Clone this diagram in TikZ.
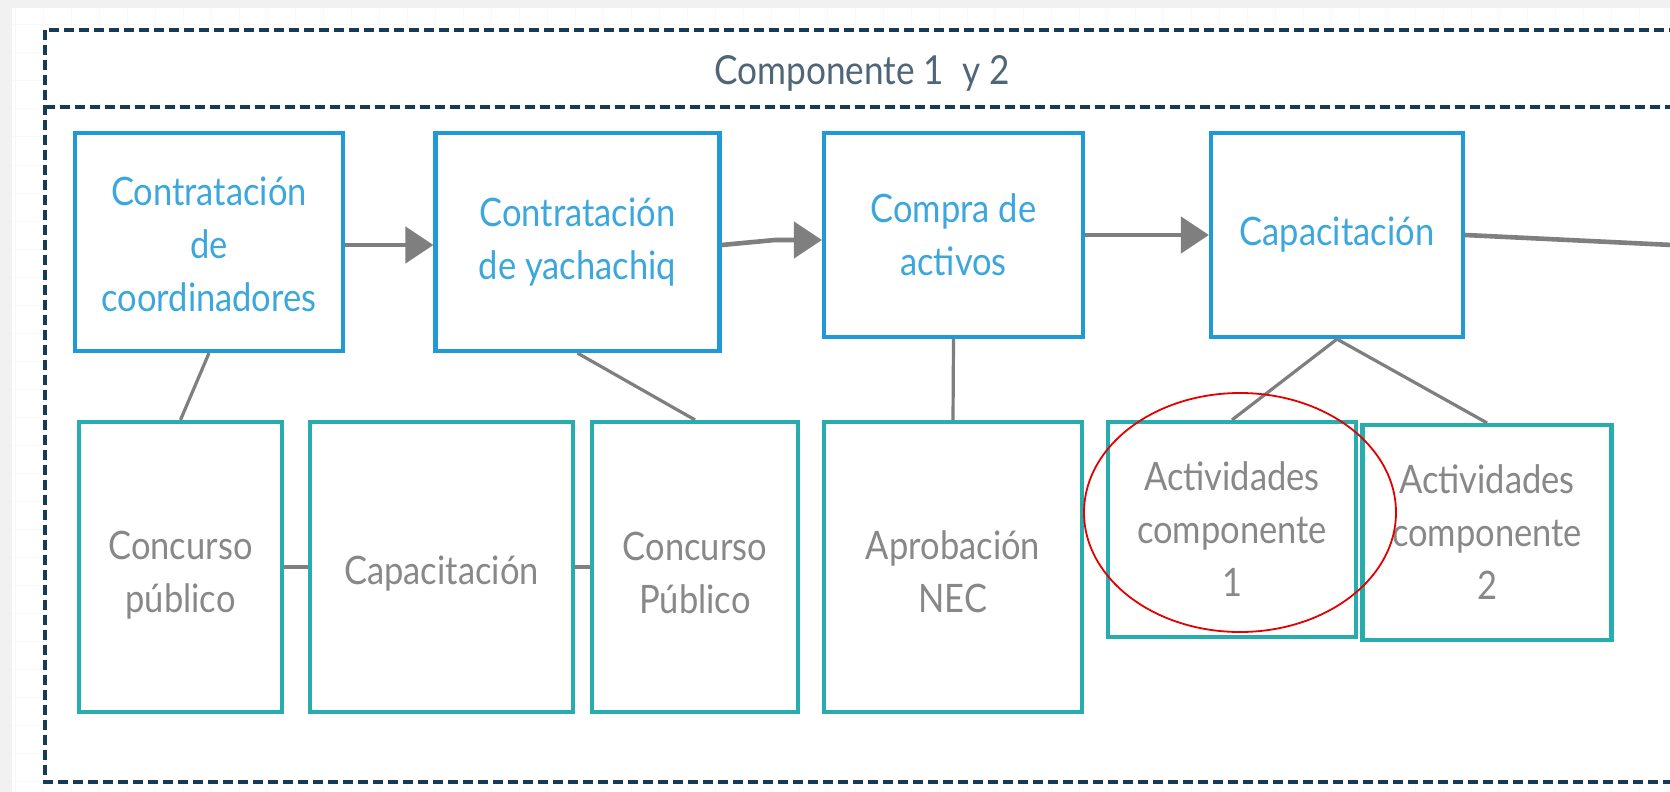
\documentclass[tikz,border=0pt]{standalone}
\usepackage{fontspec}
\setmainfont{Lato}[FakeStretch=0.88]
\usetikzlibrary{arrows.meta,calc}
\definecolor{navy}{HTML}{173A57}
\definecolor{slate}{HTML}{4F6678}
\definecolor{topblue}{HTML}{1F9AD6}
\definecolor{toptext}{HTML}{3BA7DD}
\definecolor{tealc}{HTML}{28ADAE}
\definecolor{txtgray}{HTML}{888888}
\definecolor{conn}{HTML}{7F7F7F}
\definecolor{bggray}{HTML}{F1F1F1}
\definecolor{gridc}{HTML}{F8F8F8}
\tikzset{
  boxbase/.style={line width=2.1pt, fill=white, align=center, inner sep=0pt,
    font=\fontsize{19.6pt}{26.5pt}\selectfont},
  topbox/.style={boxbase, draw=topblue, text=toptext},
  botbox/.style={boxbase, draw=tealc, text=txtgray},
  bottext/.style={align=center, inner sep=0pt, text=txtgray,
    font=\fontsize{19.6pt}{26.5pt}\selectfont},
  arrowc/.style={draw=conn, line width=2.3pt, -{Triangle[length=14pt,width=18pt]}},
  flowline/.style={draw=conn, line width=2.3pt},
  link/.style={draw=conn, line width=1.6pt},
  sidelink/.style={draw=conn, line width=2.2pt},
  frame/.style={draw=navy, line width=2pt, dash pattern=on 5pt off 2.5pt},
  titletext/.style={text=slate, font=\fontsize{20pt}{24pt}\selectfont},
  highlight/.style={draw=red!90!black, line width=0.9pt}
}
\begin{document}
\begin{tikzpicture}[x=0.5pt,y=-0.5pt]
\useasboundingbox (0,0) rectangle (1670,792);
\clip (0,0) rectangle (1670,792);
% canvas
\fill[bggray] (0,0) rectangle (1670,792);
\fill[white] (12,8) rectangle (1670,792);
\foreach \x in {15,43,...,1670} \draw[gridc, line width=0.5pt] (\x,8) -- (\x,792);
\foreach \y in {25,53,...,792} \draw[gridc, line width=0.5pt] (12,\y) -- (1670,\y);
% container
\fill[white] (45,30) rectangle (1700,782);
\draw[frame] (45,30) rectangle (1700,782);
\draw[frame] (45,107) -- (1700,107);
\node[titletext] (T) at (862,73) {Componente 1~~y 2};
% top row
\node[topbox, minimum width=134pt, minimum height=109pt] (A) at (209,242) {};
\node[topbox, text=toptext, draw=none, fill=none] (At) at ($(A.center)+(0,2)$) {Contratación\\de\\coordinadores};
\node[topbox, minimum width=142pt, minimum height=109pt] (B) at (577.5,242) {Contratación\\de yachachiq};
\node[topbox, minimum width=129.5pt, minimum height=102pt] (C) at (953.5,235) {Compra de\\activos};
\node[topbox, minimum width=126pt, minimum height=102pt] (D) at (1337,235) {Capacitación};
% bottom row
\node[botbox, minimum width=101.5pt, minimum height=145pt] (E) at (180.5,567) {};
\node[botbox, minimum width=131.5pt, minimum height=145pt] (F) at (441.5,567) {};
\node[botbox, minimum width=103pt, minimum height=145pt] (G) at (695,567) {};
\node[botbox, minimum width=129pt, minimum height=145pt] (H) at (953,567) {};
\node[bottext] (Et) at ($(E.center)+(0,8)$) {Concurso\\público};
\node[bottext] (Ft) at ($(F.center)+(0,7)$) {Capacitación};
\node[bottext] (Gt) at ($(G.center)+(0,6)$) {Concurso\\Público};
\node[bottext] (Ht) at ($(H.center)+(0,5)$) {Aprobación\\NEC};
\node[botbox, minimum width=124pt, minimum height=107.5pt] (I) at (1232,529.5) {Actividades\\componente\\1};
\node[botbox, minimum width=124.5pt, minimum height=107.5pt] (J) at (1487,532.5) {Actividades\\componente\\2};
% flow connectors
\draw[arrowc] ($(A.east)+(0,3)$) -- ($(B.west)+(0,3)$);
\draw[arrowc] ($(B.east)+(0,3)$) -- ($(C.west)+(-47,5)$) -- ($(C.west)+(0,5)$);
\draw[arrowc] (C.east) -- (D.west);
\coordinate (Dout) at (1672,245);
\draw[flowline] (D.east) -- (Dout);
% vertical links
\draw[link] (A.south) -- (E.north);
\draw[link] (B.south) -- (G.north);
\draw[link] (C.south) -- (H.north);
\draw[link] (D.south) -- (I.north);
\draw[link] (D.south) -- (J.north);
% side links
\draw[sidelink] (E.east) -- (F.west);
\draw[sidelink] (F.east) -- (G.west);
% highlight
\draw[highlight] (1240,512.5) ellipse [x radius=78pt, y radius=59.75pt];
\end{tikzpicture}
\end{document}
